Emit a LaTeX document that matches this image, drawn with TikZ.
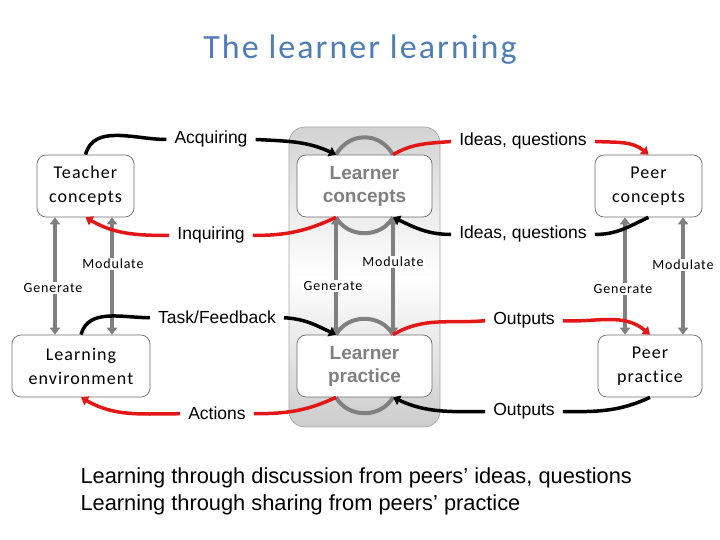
\documentclass[tikz,border=0pt]{standalone}
\usepackage{fontspec}
\setmainfont{Liberation Sans}
\newfontfamily\calfont[LetterSpace=6,Ligatures=NoCommon]{Carlito}
\usetikzlibrary{arrows.meta,positioning,calc}
\definecolor{titleblue}{RGB}{79,125,181}
\definecolor{arrowred}{RGB}{226,24,24}
\definecolor{boxline}{RGB}{110,110,110}
\definecolor{midgray}{RGB}{128,128,128}

\begin{document}
\begin{tikzpicture}[x=1pt,y=1pt,>={Triangle[length=7pt,width=10pt]},
  box/.style={draw=boxline,line width=0.7pt,rounded corners=9pt,fill=white,minimum height=62pt,align=center,font=\calfont\fontsize{18}{24}\selectfont},
  lbox/.style={box,text=midgray,font=\bfseries\fontsize{19}{23}\selectfont},
  lab/.style={font=\fontsize{17.5}{20}\selectfont,inner xsep=8pt,inner ysep=1pt,anchor=base},
  tag/.style={font=\calfont\fontsize{14}{16}\selectfont,fill=white,inner sep=1.5pt},
  blk/.style={line width=3.5pt},
  rd/.style={line width=3.5pt,draw=arrowred},
  gr/.style={line width=4pt,draw=midgray,<->},
  loop/.style={line width=4pt,draw=midgray}]
  \useasboundingbox (0,0) rectangle (720,540);
  \node[font=\calfont\fontsize{34}{40}\selectfont,text=titleblue] (title) at (360,490) {The learner learning};
  \draw[draw=gray!70,line width=0.7pt,rounded corners=16pt,top color=gray!35,bottom color=gray!40,middle color=white] (289,113) rectangle (440,413);

  \node[box,minimum width=97pt] (teacher) at (85.5,354) {Teacher\\concepts};
  \node[lbox,minimum width=135pt] (learnerC) at (364.5,354) {Learner\\concepts};
  \node[box,minimum width=107pt] (peerC) at (648.5,354) {Peer\\concepts};
  \node[box,minimum width=138pt] (env) at (81,174) {Learning\\environment};
  \node[lbox,minimum width=135pt] (learnerP) at (364.5,174) {Learner\\practice};
  \node[box,minimum width=104pt] (peerP) at (650,174) {Peer\\practice};

  \coordinate (cnw) at ([xshift=-28.5pt]learnerC.north);
  \coordinate (cne) at ([xshift=28.5pt]learnerC.north);
  \coordinate (csw) at ([xshift=-28.5pt]learnerC.south);
  \coordinate (cse) at ([xshift=28.5pt]learnerC.south);
  \coordinate (pnw) at ([xshift=-28.5pt]learnerP.north);
  \coordinate (pne) at ([xshift=28.5pt]learnerP.north);
  \coordinate (psw) at ([xshift=-28.5pt]learnerP.south);
  \coordinate (pse) at ([xshift=28.5pt]learnerP.south);

  \foreach \up/\down/\dx in {teacher/env/-30.5,teacher/env/26.5,learnerC/learnerP/-28.5,learnerC/learnerP/28.5,peerC/peerP/-23.5,peerC/peerP/34.5}{
    \draw[gr] ([xshift=\dx pt]\up.south) -- ([xshift=\dx pt]\up.south |- \down.north);
  }
  \draw[loop] (cnw) to[out=60,in=120,looseness=1.2] (cne);
  \draw[loop] (csw) to[out=-60,in=-120,looseness=1.1] (cse);
  \draw[loop] (pnw) to[out=60,in=120,looseness=1.1] (pne);
  \draw[loop] (psw) to[out=-60,in=-120,looseness=1.1] (pse);

  \foreach \name/\x/\y/\txt in {genT/53/252/Generate,modT/113/276/Modulate,genL/333/254/Generate,modL/393/278/Modulate,genP/623/251/Generate,modP/683/275/Modulate}{
    \node[tag] (\name) at (\x,\y) {\txt};
  }

  \node[lab] (acq) at (211,396) {Acquiring};
  \node[lab] (ideasT) at (523,394) {Ideas, questions};
  \node[lab] (inq) at (211,300) {Inquiring};
  \node[lab] (ideasB) at (523,301) {Ideas, questions};
  \node[lab] (task) at (217,216) {Task/Feedback};
  \node[lab] (outT) at (524,215) {Outputs};
  \node[lab] (act) at (217,120) {Actions};
  \node[lab] (outB) at (524,124) {Outputs};

  \draw[blk] (teacher.north) to[out=75,in=180] (acq.west);
  \draw[blk,->] (acq.east) to[out=-3,in=155] (cnw);
  \draw[rd] (cne) to[out=30,in=185] (ideasT.west);
  \draw[rd,->] (ideasT.east) to[out=-3,in=140] (peerC.north);
  \draw[rd] (csw) to[out=205,in=0] (inq.east);
  \draw[rd,->] (inq.west) to[out=180,in=-30] (teacher.south);
  \draw[blk] (peerC.south) to[out=205,in=0] (ideasB.east);
  \draw[blk,->] (ideasB.west) to[out=180,in=-25] (cse);
  \draw[blk] (env.north) to[out=75,in=180] (task.west);
  \draw[blk,->] (task.east) to[out=-3,in=155] (pnw);
  \draw[rd] (pne) to[out=30,in=185] (outT.west);
  \draw[rd,->] (outT.east) to[out=-3,in=140] (peerP.north);
  \draw[rd] (psw) to[out=205,in=0] (act.east);
  \draw[rd,->] (act.west) to[out=180,in=-30] (env.south);
  \draw[blk] (peerP.south) to[out=205,in=0] (outB.east);
  \draw[blk,->] (outB.west) to[out=180,in=-25] (pse);

  \node[anchor=base west,font=\fontsize{21.8}{29}\selectfont] (note1) at (77,56) {Learning through discussion from peers’ ideas, questions};
  \node[anchor=base west,font=\fontsize{21.8}{29}\selectfont] (note2) at (77,29) {Learning through sharing from peers’ practice};
\end{tikzpicture}
\end{document}
